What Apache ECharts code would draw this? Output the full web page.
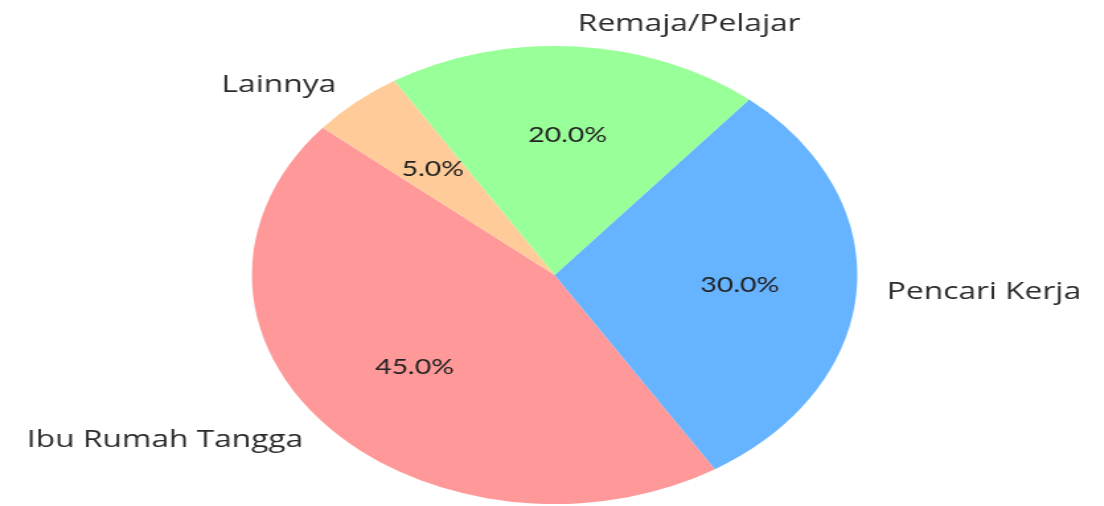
<!DOCTYPE html>
<html>
<head>
<meta charset="utf-8">
<script src="https://cdn.jsdelivr.net/npm/echarts@6/dist/echarts.min.js"></script>
<style>
html, body { margin: 0; padding: 0; background: #fff; overflow: hidden; }
/* gambar asli melebar secara horizontal, jadi seluruh chart ditarik ke samping */
#main { width: 835px; height: 506px; transform: scaleX(1.322); transform-origin: 0 0; }
</style>
</head>
<body>
<div id="main"></div>
<script>
var categories = ['Ibu Rumah Tangga', 'Pencari Kerja', 'Remaja/Pelajar', 'Lainnya'];
var values = [45, 30, 20, 5];
var colors = ['#ff9999', '#66b3ff', '#99ff99', '#ffcc99'];

var R = 229;
var center = [419.5, 275];

var pieData = categories.map(function (name, i) {
    return { name: name, value: values[i], itemStyle: { color: colors[i] } };
});

var myChart = echarts.init(document.getElementById('main'));
var option = {
    animation: false,
    series: [
        {
            // irisan + label nama di luar
            type: 'pie',
            center: center,
            radius: [0, R],
            startAngle: 140,
            clockwise: false,
            avoidLabelOverlap: false,
            silent: true,
            data: pieData,
            label: {
                show: true,
                position: 'outside',
                formatter: '{b}',
                color: '#2b2b2b',
                fontSize: 24,
                fontFamily: 'Open Sans',
                distanceToLabelLine: 0,
                overflow: 'none'
            },
            labelLine: { show: false, length: R * 0.1, length2: 0 }
        },
        {
            // lapisan transparan untuk persentase (di 0.6 * R)
            type: 'pie',
            center: center,
            radius: [R * 0.2, R],
            startAngle: 140,
            clockwise: false,
            avoidLabelOverlap: false,
            silent: true,
            data: categories.map(function (name, i) {
                return { name: name, value: values[i] };
            }),
            itemStyle: { color: 'rgba(0,0,0,0)' },
            label: {
                show: true,
                position: 'inside',
                formatter: function (p) { return p.percent.toFixed(1) + '%'; },
                color: '#222',
                fontSize: 21.5,
                fontFamily: 'Lato'
            },
            labelLine: { show: false }
        }
    ]
};
myChart.setOption(option);
</script>
</body>
</html>
